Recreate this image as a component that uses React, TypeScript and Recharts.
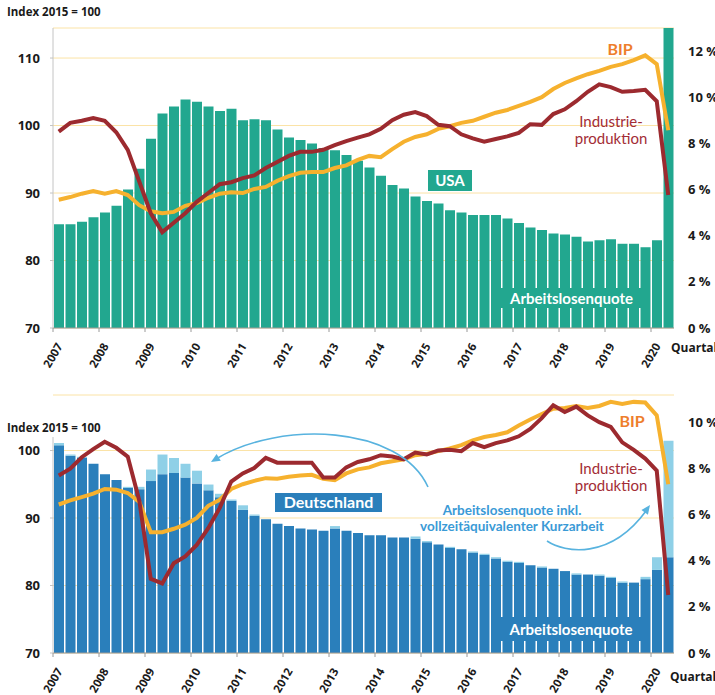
import React from "react";
import { ComposedChart, Bar, Line, XAxis, YAxis, CartesianGrid } from "recharts";

// quarters 2007 Q1 .. 2020 Q2
const QUARTERS = [
  "2007 Q1", "2007 Q2", "2007 Q3", "2007 Q4", "2008 Q1", "2008 Q2", "2008 Q3", "2008 Q4",
  "2009 Q1", "2009 Q2", "2009 Q3", "2009 Q4", "2010 Q1", "2010 Q2", "2010 Q3", "2010 Q4",
  "2011 Q1", "2011 Q2", "2011 Q3", "2011 Q4", "2012 Q1", "2012 Q2", "2012 Q3", "2012 Q4",
  "2013 Q1", "2013 Q2", "2013 Q3", "2013 Q4", "2014 Q1", "2014 Q2", "2014 Q3", "2014 Q4",
  "2015 Q1", "2015 Q2", "2015 Q3", "2015 Q4", "2016 Q1", "2016 Q2", "2016 Q3", "2016 Q4",
  "2017 Q1", "2017 Q2", "2017 Q3", "2017 Q4", "2018 Q1", "2018 Q2", "2018 Q3", "2018 Q4",
  "2019 Q1", "2019 Q2", "2019 Q3", "2019 Q4", "2020 Q1", "2020 Q2",
];

// USA
const US_QUOTE = [
  4.5, 4.5, 4.6, 4.8, 5.0, 5.3, 6.0, 6.9,
  8.2, 9.3, 9.6, 9.9, 9.8, 9.6, 9.4, 9.5,
  9.0, 9.05, 9.0, 8.6, 8.25, 8.15, 8.0, 7.8,
  7.7, 7.5, 7.25, 6.95, 6.6, 6.2, 6.05, 5.7,
  5.5, 5.4, 5.1, 5.0, 4.9, 4.9, 4.9, 4.75,
  4.55, 4.35, 4.25, 4.1, 4.05, 3.95, 3.75, 3.8,
  3.85, 3.65, 3.65, 3.5, 3.8, 13.0,
];
const US_BIP = [
  89.0, 89.4, 89.9, 90.3, 89.9, 90.3, 89.7, 88.2,
  87.3, 87.0, 87.2, 88.1, 88.5, 89.3, 89.9, 90.1,
  90.0, 90.6, 90.9, 91.8, 92.5, 93.0, 93.1, 93.1,
  93.7, 94.1, 94.9, 95.5, 95.3, 96.5, 97.6, 98.3,
  98.7, 99.5, 99.9, 100.4, 100.7, 101.3, 101.9, 102.3,
  102.9, 103.5, 104.2, 105.4, 106.3, 107.0, 107.6, 108.1,
  108.7, 109.1, 109.7, 110.4, 109.1, 99.3,
];
const US_IP = [
  99.1, 100.4, 100.7, 101.1, 100.7, 99.0, 96.4, 91.7,
  87.0, 84.2, 85.6, 87.0, 88.7, 90.0, 91.3, 91.6,
  92.2, 92.6, 93.7, 94.6, 95.5, 96.1, 96.1, 96.4,
  97.1, 97.7, 98.2, 98.7, 99.5, 100.8, 101.6, 102.0,
  101.4, 100.1, 99.9, 98.7, 98.1, 97.6, 98.0, 98.4,
  98.9, 100.2, 100.1, 101.7, 102.4, 103.6, 105.0, 106.1,
  105.7, 105.0, 105.1, 105.3, 103.6, 89.7,
];

// Deutschland
const DE_QUOTE = [
  9.0, 8.55, 8.45, 8.2, 7.75, 7.5, 7.15, 7.1,
  7.45, 7.75, 7.8, 7.6, 7.35, 7.05, 6.75, 6.6,
  6.2, 5.95, 5.8, 5.6, 5.5, 5.4, 5.35, 5.3,
  5.4, 5.3, 5.2, 5.1, 5.1, 5.0, 5.0, 4.95,
  4.8, 4.7, 4.55, 4.5, 4.35, 4.25, 4.1, 3.95,
  3.9, 3.8, 3.7, 3.65, 3.55, 3.4, 3.4, 3.35,
  3.25, 3.05, 3.05, 3.2, 3.6, 4.15,
];
const DE_QUOTE_KURZARBEIT = [
  9.1, 8.6, 8.5, 8.2, 7.75, 7.5, 7.2, 7.2,
  7.95, 8.6, 8.45, 8.2, 7.9, 7.3, 6.9, 6.65,
  6.4, 6.0, 5.8, 5.6, 5.5, 5.4, 5.35, 5.3,
  5.5, 5.3, 5.2, 5.1, 5.1, 5.0, 5.0, 5.05,
  4.85, 4.7, 4.6, 4.5, 4.4, 4.3, 4.15, 4.0,
  3.95, 3.8, 3.75, 3.65, 3.55, 3.45, 3.4, 3.4,
  3.3, 3.1, 3.05, 3.3, 4.15, 9.2,
];
const DE_BIP = [
  92.0, 92.6, 93.1, 93.6, 94.3, 94.2, 93.7, 92.4,
  87.9, 87.9, 88.4, 89.0, 90.0, 91.8, 92.7, 94.3,
  95.0, 95.5, 95.9, 95.8, 96.1, 96.3, 96.4, 95.8,
  95.6, 96.6, 97.2, 97.5, 98.1, 98.4, 98.7, 99.3,
  99.5, 99.9, 100.3, 100.8, 101.5, 102.0, 102.3, 102.7,
  103.7, 104.6, 105.4, 106.2, 106.3, 106.6, 106.3, 106.6,
  107.2, 106.9, 107.2, 107.1, 105.2, 95.0,
];
const DE_IP = [
  96.3, 97.3, 99.0, 100.2, 101.3, 100.4, 99.1, 92.6,
  81.0, 80.3, 83.3, 84.3, 86.0, 88.5, 91.5, 95.4,
  96.6, 97.4, 98.9, 98.2, 98.2, 98.2, 98.2, 96.0,
  96.0, 97.5, 98.3, 98.7, 99.3, 99.1, 98.7, 99.7,
  99.4, 100.0, 100.1, 99.9, 101.1, 100.5, 101.1, 101.5,
  102.1, 103.2, 104.8, 106.7, 105.7, 106.5, 105.2, 104.2,
  103.5, 101.2, 100.1, 98.8, 97.0, 78.6,
];

const US_LEFT_TICKS = [70, 80, 90, 100, 110];
const US_RIGHT_TICKS = [0, 2, 4, 6, 8, 10, 12];
const DE_LEFT_TICKS = [70, 80, 90, 100];
const DE_RIGHT_TICKS = [0, 2, 4, 6, 8, 10];

const usData = QUARTERS.map((q, i) => ({ q, quote: US_QUOTE[i], bip: US_BIP[i], ip: US_IP[i] }));
const deData = QUARTERS.map((q, i) => ({
  q,
  quote: DE_QUOTE[i],
  kurz: Math.max(0, DE_QUOTE_KURZARBEIT[i] - DE_QUOTE[i]),
  bip: DE_BIP[i],
  ip: DE_IP[i],
}));

const W = 715;
const LEFT_W = 53;
const RIGHT_W = 41;
const BAND = (W - LEFT_W - RIGHT_W) / QUARTERS.length;

const AXIS_FONT = "'Open Sans', 'Noto Sans', sans-serif";
const LABEL_FONT = "Lato, 'Noto Sans', sans-serif";

const TEAL = "#22a78f";
const BLUE = "#2a7fbb";
const LIGHT_BLUE = "#8fd0e7";
const ORANGE = "#f6b12e";
const RED = "#9c2a2f";
const GRID = "#fbe3a6";
const AXIS_GRAY = "#c4c4c4";

const YearTick = (props: any) => {
  const { x, y, payload } = props;
  const label: string = payload.value;
  if (!label.endsWith("Q1")) return <g />;
  const bx = x - BAND / 2;
  const tx = bx + 10;
  const ty = y + 18;
  return (
    <g>
      <line x1={bx} y1={y} x2={bx} y2={y + 4} stroke="#9a9a9a" />
      <text
        x={tx}
        y={ty}
        textAnchor="end"
        transform={`rotate(-60 ${tx} ${ty})`}
        fontFamily={AXIS_FONT}
        fontWeight={700}
        fontSize={11.5}
        fill="#1a1a1a"
      >
        {label.slice(0, 4)}
      </text>
    </g>
  );
};

const leftTick = { fontSize: 13, fontWeight: 700, fill: "#1a1a1a", fontFamily: AXIS_FONT };
const rightTick = { fontSize: 13, fontWeight: 700, fill: "#1a1a1a", fontFamily: AXIS_FONT, textAnchor: "start" };

const arrowHead = (tipX: number, tipY: number, fromX: number, fromY: number, color: string) => {
  const dx = tipX - fromX;
  const dy = tipY - fromY;
  const len = Math.sqrt(dx * dx + dy * dy);
  const ux = dx / len;
  const uy = dy / len;
  const bx = tipX - ux * 9;
  const by = tipY - uy * 9;
  const px = -uy * 4;
  const py = ux * 4;
  return <polygon points={`${tipX},${tipY} ${bx + px},${by + py} ${bx - px},${by - py}`} fill={color} />;
};

const ARROW = "#58b3df";

export default function App() {
  return (
    <div style={{ position: "absolute", left: 0, top: 0, width: W, height: 695, background: "#fff", overflow: "hidden" }}>
      <div style={{ position: "absolute", left: 0, top: 0 }}>
        <ComposedChart width={W} height={380} data={usData} margin={{ top: 28, right: 0, bottom: 0, left: 0 }}>
          <CartesianGrid yAxisId="L" vertical={false} stroke={GRID} strokeWidth={1} />
          <XAxis dataKey="q" interval={0} height={52} tickSize={0} tickMargin={0} tick={<YearTick />} axisLine={{ stroke: "#9a9a9a" }} tickLine={false} />
          <YAxis yAxisId="L" domain={[70, 114.45]} ticks={US_LEFT_TICKS} width={LEFT_W} tick={leftTick} tickSize={3} tickMargin={10} axisLine={{ stroke: AXIS_GRAY }} tickLine={{ stroke: AXIS_GRAY }} />
          <YAxis yAxisId="R" orientation="right" domain={[0, 13]} ticks={US_RIGHT_TICKS} width={RIGHT_W} tick={rightTick} tickFormatter={(v: number) => `${v} %`} axisLine={false} tickLine={false} tickSize={6} tickMargin={8} />
          <Bar yAxisId="R" dataKey="quote" fill={TEAL} barSize={10} isAnimationActive={false} />
          <Line yAxisId="L" dataKey="bip" stroke={ORANGE} strokeWidth={4} dot={false} type="linear" isAnimationActive={false} />
          <Line yAxisId="L" dataKey="ip" stroke={RED} strokeWidth={4} dot={false} type="linear" isAnimationActive={false} />
        </ComposedChart>
      </div>
      <div style={{ position: "absolute", left: 0, top: 380 }}>
        {/* plot runs from y=395 so the lines above index 102 still fit; left axis line drawn below from 102 down */}
        <ComposedChart width={W} height={315} data={deData} margin={{ top: 15, right: 0, bottom: 0, left: 0 }}>
          <CartesianGrid yAxisId="L" vertical={false} stroke={GRID} strokeWidth={1} />
          <XAxis dataKey="q" interval={0} height={42} tickSize={0} tickMargin={0} tick={<YearTick />} axisLine={{ stroke: "#9a9a9a" }} tickLine={false} />
          <YAxis yAxisId="L" domain={[70, 108.22]} ticks={DE_LEFT_TICKS} width={LEFT_W} tick={leftTick} tickSize={3} tickMargin={10} axisLine={false} tickLine={{ stroke: AXIS_GRAY }} />
          <YAxis yAxisId="R" orientation="right" domain={[0, 11.18]} ticks={DE_RIGHT_TICKS} width={RIGHT_W} tick={rightTick} tickFormatter={(v: number) => `${v} %`} axisLine={false} tickLine={false} tickSize={6} tickMargin={8} />
          <Bar yAxisId="R" dataKey="quote" stackId="a" fill={BLUE} barSize={10} isAnimationActive={false} />
          <Bar yAxisId="R" dataKey="kurz" stackId="a" fill={LIGHT_BLUE} barSize={10} isAnimationActive={false} />
          <Line yAxisId="L" dataKey="bip" stroke={ORANGE} strokeWidth={4} dot={false} type="linear" isAnimationActive={false} />
          <Line yAxisId="L" dataKey="ip" stroke={RED} strokeWidth={4} dot={false} type="linear" isAnimationActive={false} />
        </ComposedChart>
      </div>

      {/* labels and arrows on top of both charts */}
      <svg width={W} height={695} style={{ position: "absolute", left: 0, top: 0, pointerEvents: "none" }}>
        <line x1={53} y1={437} x2={53} y2={653} stroke={AXIS_GRAY} />
        <g fontFamily={AXIS_FONT} fontWeight={700} fontSize={11.5} fill="#1a1a1a">
          <text x={7} y={16}>Index 2015 = 100</text>
          <text x={7} y={432}>Index 2015 = 100</text>
          <text x={671} y={352} fontSize={12}>Quartale</text>
          <text x={670} y={681} fontSize={12}>Quartale</text>
        </g>

        {/* USA */}
        <g fontFamily={LABEL_FONT} fontSize={15} textAnchor="middle">
          <text x={620} y={55} fill="#ee7e2c" fontSize={16} fontWeight={700}>BIP</text>
          <text x={611} y={127} fill="#a32d36">Industrie-</text>
          <text x={611} y={144} fill="#a32d36">produktion</text>
        </g>
        <rect x={428} y={170} width={44} height={21} fill={TEAL} />
        <text x={450} y={186} textAnchor="middle" fontFamily={LABEL_FONT} fontWeight={700} fontSize={15} fill="#fff">USA</text>
        <rect x={500} y={288} width={143} height={20} fill={TEAL} />
        <text x={571.5} y={303.5} textAnchor="middle" fontFamily={LABEL_FONT} fontWeight={700} fontSize={15} fill="#fff">Arbeitslosenquote</text>

        {/* Deutschland */}
        <g fontFamily={LABEL_FONT} fontSize={15} textAnchor="middle">
          <text x={632} y={427} fill="#ee7e2c" fontSize={16} fontWeight={700}>BIP</text>
          <text x={611} y={474} fill="#a32d36">Industrie-</text>
          <text x={611} y={491} fill="#a32d36">produktion</text>
        </g>
        <rect x={275} y={493} width={107} height={19} fill={BLUE} />
        <text x={328.5} y={508} textAnchor="middle" fontFamily={LABEL_FONT} fontWeight={700} fontSize={16} fill="#fff">Deutschland</text>
        <rect x={498} y={617} width={146} height={24} fill={BLUE} />
        <text x={571} y={635} textAnchor="middle" fontFamily={LABEL_FONT} fontWeight={700} fontSize={15} fill="#fff">Arbeitslosenquote</text>

        <g fontFamily={LABEL_FONT} fontSize={13.5} fontWeight={700} fill="#3a9ad6" textAnchor="middle">
          <text x={512} y={515}>Arbeitslosenquote inkl.</text>
          <text x={512} y={531}>vollzeitäquivalenter Kurzarbeit</text>
        </g>

        <path d="M 428 487 C 400 425, 280 420, 216 459" fill="none" stroke={ARROW} strokeWidth={1.6} />
        {arrowHead(211, 462, 280, 420, ARROW)}
        <path d="M 547 541 C 565 553, 610 560, 646 511" fill="none" stroke={ARROW} strokeWidth={1.6} />
        {arrowHead(650, 505, 610, 560, ARROW)}
      </svg>
    </div>
  );
}
